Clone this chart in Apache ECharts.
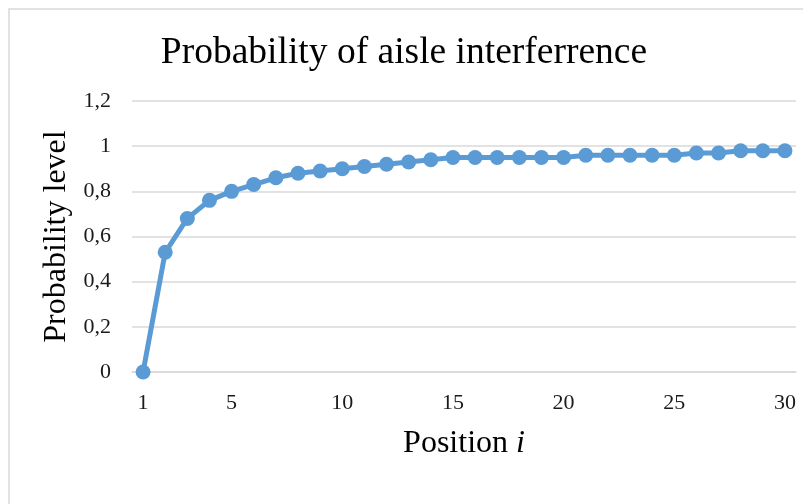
<!DOCTYPE html>
<html>
<head>
<meta charset="utf-8">
<script src="https://cdn.jsdelivr.net/npm/echarts@6/dist/echarts.min.js"></script>
<style>
html,body{margin:0;padding:0;background:#fff;}
#chart{width:803px;height:504px;}
</style>
</head>
<body>
<div id="chart"></div>
<script>
const positions = ['1','2','3','4','5','6','7','8','9','10','11','12','13','14','15','16','17','18','19','20','21','22','23','24','25','26','27','28','29','30'];
const probability = [0, 0.53, 0.68, 0.76, 0.80, 0.83, 0.86, 0.88, 0.89, 0.90, 0.91, 0.92, 0.93, 0.94, 0.95, 0.95, 0.95, 0.95, 0.95, 0.95, 0.96, 0.96, 0.96, 0.96, 0.96, 0.97, 0.97, 0.98, 0.98, 0.98];
const shownXLabels = ['1','5','10','15','20','25','30'];
const chartTitle = 'Probability of aisle interferrence';
const yAxisTitle = 'Probability level';

const FONT = "'Liberation Serif', 'Times New Roman', serif";
const chart = echarts.init(document.getElementById('chart'));
chart.setOption({
  animation: false,
  backgroundColor: '#fff',
  graphic: [{
    type: 'rect', silent: true, z: -10,
    shape: { x: 9, y: 9, width: 1000, height: 1000 },
    style: { fill: 'none', stroke: '#d9d9d9', lineWidth: 1.5 }
  }],
  title: {
    text: chartTitle, left: 399, top: 29, textAlign: 'center',
    textStyle: { fontFamily: FONT, fontSize: 37.5, fontWeight: 'normal', color: '#000' }
  },
  grid: { left: 132, right: 7, top: 101, bottom: 132, containLabel: false },
  xAxis: {
    type: 'category', data: positions, boundaryGap: true,
    name: '{a|Position }{b|i}', nameLocation: 'middle', nameGap: 56,
    nameTextStyle: {
      rich: {
        a: { fontFamily: FONT, fontSize: 32, color: '#000' },
        b: { fontFamily: FONT, fontSize: 32, fontStyle: 'italic', color: '#000' }
      }
    },
    axisLine: { show: true, lineStyle: { color: '#d9d9d9', width: 1.5 } },
    axisTick: { show: false },
    axisLabel: {
      interval: (idx, val) => shownXLabels.indexOf(val) >= 0,
      margin: 20, fontFamily: FONT, fontSize: 22, color: '#1a1a1a'
    }
  },
  yAxis: {
    type: 'value', min: 0, max: 1.2, interval: 0.2,
    name: yAxisTitle, nameLocation: 'middle', nameGap: 57, nameRotate: 90,
    nameTextStyle: { fontFamily: FONT, fontSize: 32, color: '#000' },
    axisLine: { show: false }, axisTick: { show: false },
    axisLabel: {
      margin: 21, fontFamily: FONT, fontSize: 22, color: '#1a1a1a',
      formatter: v => String(Math.round(v * 10) / 10).replace('.', ',')
    },
    splitLine: { lineStyle: { color: '#d9d9d9', width: 1.5 } }
  },
  series: [{
    type: 'line', data: probability,
    symbol: 'circle', symbolSize: 15, showAllSymbol: true,
    itemStyle: { color: '#5b9bd5' },
    lineStyle: { color: '#5b9bd5', width: 5 }
  }]
});
</script>
</body>
</html>
